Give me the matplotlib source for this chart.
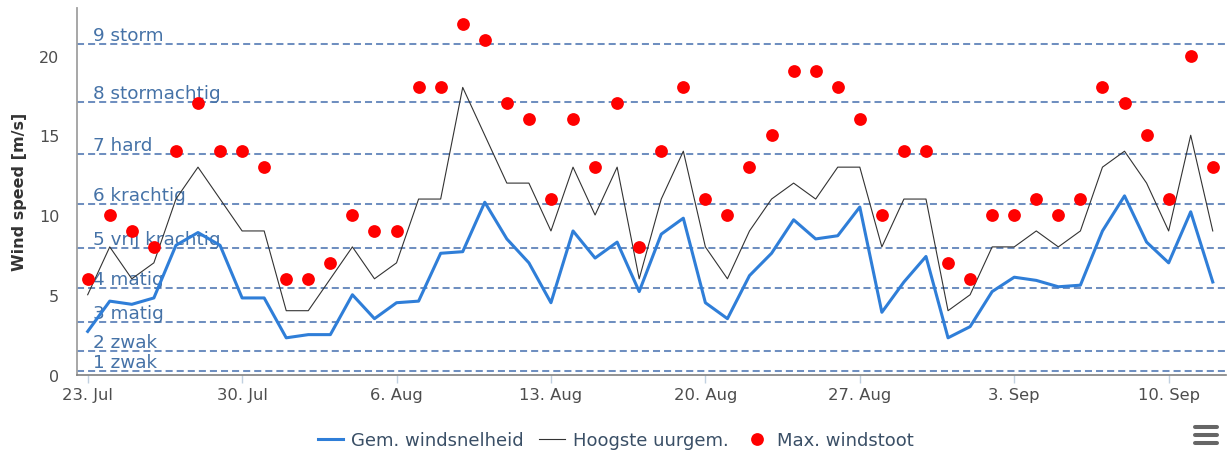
import matplotlib
matplotlib.use("Agg")
import matplotlib.pyplot as plt
from matplotlib.lines import Line2D
import pandas as pd

start_date = "2018-07-23"
avg_speed = [2.7, 4.6, 4.4, 4.8, 8.1, 8.9, 8.1, 4.8, 4.8, 2.3, 2.5, 2.5, 5.0, 3.5, 4.5, 4.6,
             7.6, 7.7, 10.8, 8.5, 7.0, 4.5, 9.0, 7.3, 8.3, 5.2, 8.8, 9.8, 4.5, 3.5, 6.2, 7.6,
             9.7, 8.5, 8.7, 10.5, 3.9, 5.8, 7.4, 2.3, 3.0, 5.2, 6.1, 5.9, 5.5, 5.6, 9.0, 11.2,
             8.3, 7.0, 10.2, 5.8]
max_hourly = [5, 8, 6, 7, 11, 13, 11, 9, 9, 4, 4, 6, 8, 6, 7, 11, 11, 18, 15, 12, 12, 9, 13, 10,
              13, 6, 11, 14, 8, 6, 9, 11, 12, 11, 13, 13, 8, 11, 11, 4, 5, 8, 8, 9, 8, 9, 13, 14,
              12, 9, 15, 9]
max_gust = [6, 10, 9, 8, 14, 17, 14, 14, 13, 6, 6, 7, 10, 9, 9, 18, 18, 22, 21, 17, 16, 11, 16,
            13, 17, 8, 14, 18, 11, 10, 13, 15, 19, 19, 18, 16, 10, 14, 14, 7, 6, 10, 10, 11, 10,
            11, 18, 17, 15, 11, 20, 13]
beaufort_values = [0.2, 1.5, 3.3, 5.4, 7.9, 10.7, 13.8, 17.1, 20.7]
beaufort_labels = ["1 zwak", "2 zwak", "3 matig", "4 matig", "5 vrij krachtig",
                   "6 krachtig", "7 hard", "8 stormachtig", "9 storm"]
series_names = ["Gem. windsnelheid", "Hoogste uurgem.", "Max. windstoot"]
y_ticks = [0, 5, 10, 15, 20]

dates = pd.date_range(start_date, periods=len(avg_speed), freq="D")

W, H = 1227, 452
fig = plt.figure(figsize=(W / 100, H / 100), dpi=100)
left_px, right_px, top_px, bottom_px = 77.3, 1226, 8.65, 375.5
ax = fig.add_axes([left_px / W, 1 - bottom_px / H, (right_px - left_px) / W,
                   (bottom_px - top_px) / H])

# Beaufort lines and labels
label_color = "#4572A7"
line_color = "#6f8fc0"
for v, lab in zip(beaufort_values, beaufort_labels):
    ax.axhline(v, color=line_color, lw=1.45, dashes=(3.5, 2.0), zorder=1)
    ax.annotate(lab, xy=(0, v), xycoords=("axes fraction", "data"),
                xytext=(16, 4), textcoords="offset pixels", ha="left", va="baseline",
                fontsize=13.2, color=label_color, zorder=1)

ax.plot(dates, avg_speed, color="#2f7ed8", lw=2.2, zorder=3, label=series_names[0])
ax.plot(dates, max_hourly, color="#333333", lw=0.8, zorder=3, label=series_names[1])
ax.plot(dates, max_gust, linestyle="none", marker="o", ms=9.2, mew=0, color="#ff0000",
        zorder=4, label=series_names[2])

day = pd.Timedelta(days=1)
ax.set_xlim(dates[0] - 0.471 * day, dates[0] + 51.6 * day)
ax.set_ylim(0, 23)

ax.set_yticks(y_ticks)
ax.tick_params(axis="y", length=0, pad=13, labelsize=11.5, labelcolor="#4d4d4d")
tick_dates = [d for i, d in enumerate(dates) if i % 7 == 0]
ax.set_xticks(tick_dates)
ax.set_xticklabels([f"{d.day}. {d.strftime('%b')}" for d in tick_dates])
ax.tick_params(axis="x", length=6, width=1, color="#C0D0E0", pad=3,
               labelsize=11.8, labelcolor="#4d4d4d")

for s in ["top", "right"]:
    ax.spines[s].set_visible(False)
ax.spines["left"].set_color("#a0a0a0")
ax.spines["left"].set_linewidth(1.3)
ax.spines["bottom"].set_color("#808080")
ax.spines["bottom"].set_linewidth(1.2)
ax.patch.set_alpha(0)

fig.text(20 / W, 1 - 192 / H, "Wind speed [m/s]", rotation=90, ha="center", va="center",
         fontsize=11.5, fontweight="bold", color="#333333")

handles, labels = ax.get_legend_handles_labels()
leg = fig.legend(handles, labels, loc="center", bbox_to_anchor=(616 / W, 1 - 441 / H),
                 ncol=3, frameon=False, fontsize=13, handlelength=1.4, handletextpad=0.45,
                 columnspacing=0.85, labelcolor="#3a4f66")

# context menu icon
for yy in [428, 436, 444]:
    fig.add_artist(Line2D([1195 / W, 1217 / W], [1 - yy / H, 1 - yy / H],
                          transform=fig.transFigure, color="#666666", lw=2.9,
                          solid_capstyle="round"))

fig.savefig("out.png", dpi=100)
